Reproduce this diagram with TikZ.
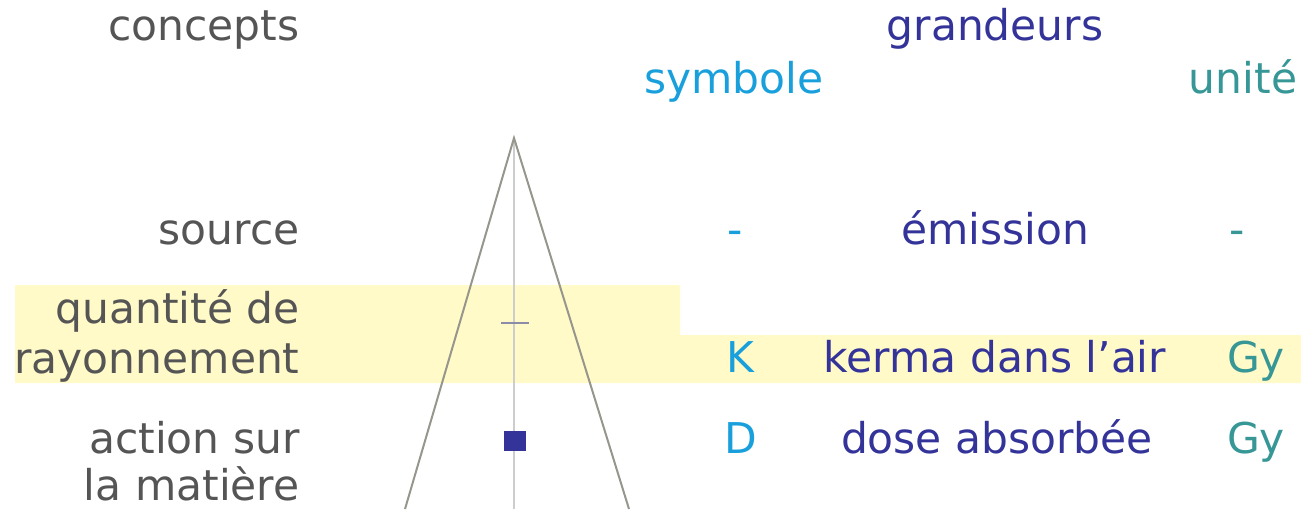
\documentclass[tikz,border=0pt]{standalone}
\usepackage{fontspec}
\setmainfont{DejaVu Sans}
\definecolor{txtgray}{RGB}{85,85,85}
\definecolor{navytxt}{RGB}{51,51,153}
\definecolor{cyantxt}{RGB}{25,160,220}
\definecolor{tealtxt}{RGB}{55,150,150}
\definecolor{bandyellow}{RGB}{255,250,200}
\definecolor{conegray}{RGB}{150,150,140}
\definecolor{axisgray}{RGB}{205,205,205}
\definecolor{tickgray}{RGB}{140,140,170}
\begin{document}
\begin{tikzpicture}[x=0.5pt,y=-0.5pt,
    every node/.style={inner sep=0pt, font=\fontsize{21.2}{25}\selectfont},
    concept/.style={anchor=base east, text=txtgray},
    grandeur/.style={anchor=base, text=navytxt},
    symb/.style={anchor=base, text=cyantxt},
    unit/.style={anchor=base, text=tealtxt}]
    \useasboundingbox (0,0) rectangle (1301,509);

    % bande jaune (quantite de rayonnement / kerma)
    \fill[bandyellow] (15,285) -- (680,285) -- (680,335) -- (1301,335)
        -- (1301,383) -- (15,383) -- cycle;

    % cone et axe
    \coordinate (apex) at (514,138);
    \coordinate (leftfoot) at (405,509);
    \coordinate (rightfoot) at (629,509);
    \coordinate (axisfoot) at (514,509);
    \draw[axisgray, line width=1.2pt] (apex) -- (axisfoot);
    \draw[conegray, line width=1pt] (leftfoot) -- (apex) -- (rightfoot);
    \draw[tickgray, line width=1pt] (501,323) -- (529,323);
    \node[fill=navytxt, minimum width=11pt, minimum height=10pt] (dosemark) at (515,441) {};

    % en-tetes
    \node[concept] (concepts) at (300,40) {concepts};
    \node[grandeur] (grandeurs) at (995,40) {grandeurs};
    \node[symb] (symbole) at (734,93) {symbole};
    \node[unit] (unite) at (1243,93) {unité};

    % lignes
    \node[concept] (source) at (300,244) {source};
    \node[symb] (srcsym) at (735,244) {-};
    \node[grandeur] (emission) at (995,244) {émission};
    \node[unit] (srcunit) at (1237,244) {-};

    \node[concept] (quantite) at (300,323) {quantité de};
    \node[concept] (rayonnement) at (300,373) {rayonnement};
    \node[symb] (ksym) at (740,372) {K};
    \node[grandeur] (kerma) at (995,372) {kerma dans l’air};
    \node[unit] (kunit) at (1256,372) {Gy};

    \node[concept] (action) at (300,453) {action sur};
    \node[concept] (matiere) at (300,500) {la matière};
    \node[symb] (dsym) at (741,453) {D};
    \node[grandeur] (dose) at (997,453) {dose absorbée};
    \node[unit] (dunit) at (1256,453) {Gy};
\end{tikzpicture}
\end{document}
